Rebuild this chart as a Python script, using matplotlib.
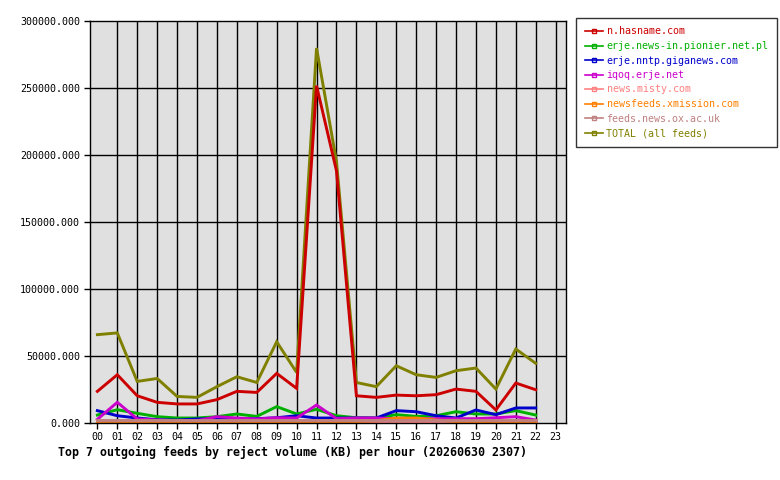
import matplotlib
matplotlib.use('Agg')
import matplotlib.pyplot as plt
from matplotlib.lines import Line2D

hours = ['%02d' % h for h in range(24)]

feeds = ['n.hasname.com', 'erje.news-in.pionier.net.pl', 'erje.nntp.giganews.com', 'iqoq.erje.net',
         'news.misty.com', 'newsfeeds.xmission.com', 'feeds.news.ox.ac.uk', 'TOTAL (all feeds)']
colors = ['#cc0000', '#00b000', '#0000cc', '#cc00cc', '#ff8080', '#ff8000', '#c08080', '#808000']

# KB per hour, hours 00..22
hasname = [23400, 35800, 20100, 15200, 14000, 14000, 17200, 23400, 22600, 36800, 25600, 251500,
           188000, 20100, 18900, 20600, 20100, 20900, 25100, 23400, 9500, 29600, 24600]
pionier = [5700, 9700, 7000, 4500, 3500, 3500, 4500, 6500, 4700, 12000, 6500, 10000,
           5200, 3700, 3500, 6000, 4700, 5200, 8200, 6500, 6500, 9000, 5700]
giganews = [9000, 5200, 3500, 2200, 2000, 2800, 3000, 3000, 3000, 3700, 5200, 3500,
            3500, 3500, 3500, 9000, 8200, 5200, 3500, 9500, 6000, 11000, 11000]
iqoq = [2500, 15200, 2800, 2000, 1500, 1500, 4500, 3500, 2800, 3700, 3500, 13200,
        3000, 3500, 3500, 3000, 3000, 3000, 3000, 3000, 3700, 4500, 2000]
misty = [1500, 1500, 1500, 1500, 1500, 1500, 1500, 1500, 1500, 1500, 1500, 1500,
         1500, 1500, 1500, 1500, 1500, 1500, 1500, 1500, 1500, 1500, 1500]
xmission = [1000, 1000, 1000, 1000, 1000, 1000, 1000, 1000, 1000, 1000, 1000, 1000,
            1000, 1000, 1500, 3500, 3500, 2000, 1000, 1000, 1000, 1000, 1000]
oxac = [2000, 2000, 2000, 2000, 2000, 2000, 2000, 2000, 2000, 2000, 2000, 2000,
        2000, 2000, 2000, 2000, 2000, 2000, 2000, 2000, 2000, 2000, 2000]
total = [65700, 67000, 30800, 33000, 19600, 18900, 26900, 34300, 30000, 60400, 37500, 279600,
         195000, 30000, 26900, 42500, 35800, 33800, 38800, 40800, 25100, 55000, 44300]

series = [hasname, pionier, giganews, iqoq, misty, xmission, oxac, total]

plt.rcParams['font.family'] = 'DejaVu Sans Mono'
plt.rcParams['font.size'] = 7.2

fig = plt.figure(figsize=(7.8, 4.8), dpi=100)
ax = fig.add_axes([90 / 780, 1 - 422.7 / 480, 476 / 780, 402 / 480])
ax.set_facecolor('#e0e0e0')

x = list(range(len(total)))
# total underneath, feeds on top in legend order
ax.plot(x, total, color=colors[7], lw=2.1, zorder=2, solid_joinstyle='miter')
for i in range(7):
    ax.plot(x, series[i], color=colors[i], lw=2.1, zorder=3 + i, solid_joinstyle='miter')

ax.set_xlim(-0.37, 23.52)
ax.set_ylim(0, 300000)
ax.set_xticks(range(24))
ax.set_xticklabels(hours)
ax.set_yticks(range(0, 300001, 50000))
ax.set_yticklabels(['%d.000' % v for v in range(0, 300001, 50000)])
ax.tick_params(direction='out', length=4, width=1, pad=3, color='black')

for h in range(1, 24):
    ax.axvline(h, color='black', lw=1, zorder=1)
for v in range(50000, 300000, 50000):
    ax.axhline(v, color='black', lw=1, zorder=1)
for s in ax.spines.values():
    s.set_linewidth(1)
    s.set_zorder(20)

handles = [Line2D([0], [0], color=c, lw=1.2, marker='s', markersize=3, markerfacecolor='none',
                  markeredgecolor=c) for c in colors]
leg = fig.legend(handles, feeds, loc='upper left', bbox_to_anchor=(576 / 780, 1 - 18 / 480),
                 borderaxespad=0, frameon=True, fancybox=False, edgecolor='black',
                 handlelength=1.8, handletextpad=0.4, labelspacing=0.45, borderpad=0.85,
                 labelcolor='linecolor', prop={'size': 7.2})
leg.get_frame().set_linewidth(1)

fig.text(58 / 780, 1 - 452 / 480, 'Top 7 outgoing feeds by reject volume (KB) per hour (20260630 2307)',
         ha='left', va='center', fontweight='bold', fontsize=8.4)

fig.savefig('out.png', dpi=100, facecolor='white')
